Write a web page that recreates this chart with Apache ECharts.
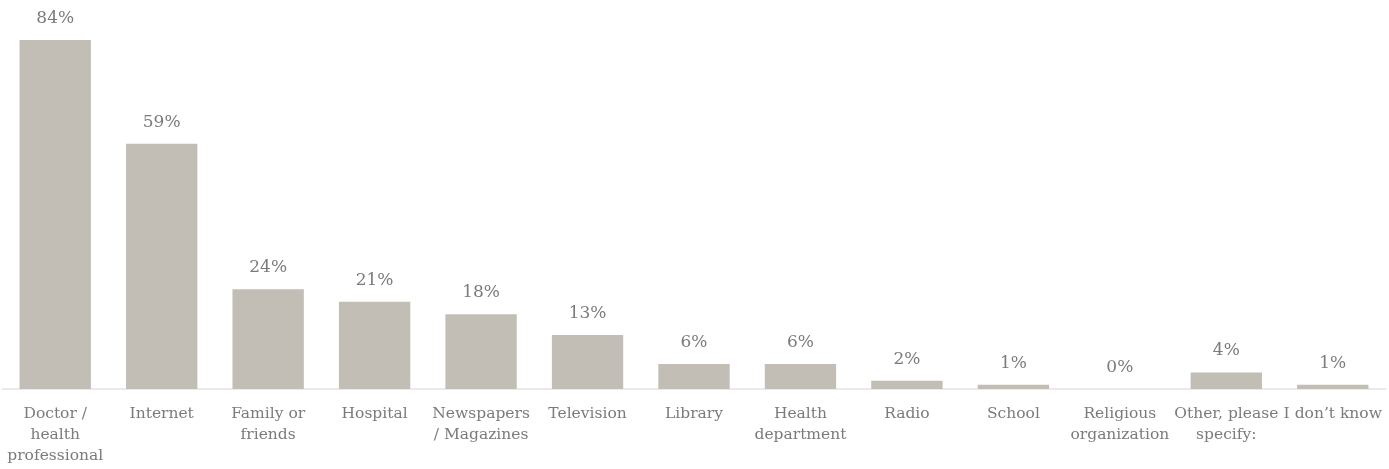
<!DOCTYPE html>
<html><head><meta charset="utf-8">
<script src="https://cdn.jsdelivr.net/npm/echarts@6/dist/echarts.min.js"></script>
<style>html,body{margin:0;padding:0;background:#fff}#c{width:1389px;height:469px}</style>
</head><body><div id="c"></div>
<script>
const categories = ["Doctor /\nhealth\nprofessional","Internet","Family or\nfriends","Hospital","Newspapers\n/ Magazines","Television","Library","Health\ndepartment","Radio","School","Religious\norganization","Other, please\nspecify:","I don\u2019t know"];
const values = [84,59,24,21,18,13,6,6,2,1,0,4,1];
const chart = echarts.init(document.getElementById('c'));
chart.setOption({
  animation:false,
  grid:{left:2,right:3,top:15,bottom:80,containLabel:false},
  xAxis:{type:'category',data:categories,
    axisLine:{lineStyle:{color:'#e3e3e3',width:1.5}},axisTick:{show:false},
    axisLabel:{interval:0,color:'#7b7b7b',fontFamily:'DejaVu Serif',fontSize:15.5,lineHeight:21,margin:14}},
  yAxis:{type:'value',min:0,max:90,show:false,splitLine:{show:false}},
  series:[{type:'bar',data:values,barCategoryGap:'33%',
    itemStyle:{color:'#c2bdb5'},
    label:{show:true,position:'top',distance:13,formatter:'{c}%',color:'#7b7b7b',fontFamily:'DejaVu Serif',fontSize:17}}]
});
</script></body></html>
